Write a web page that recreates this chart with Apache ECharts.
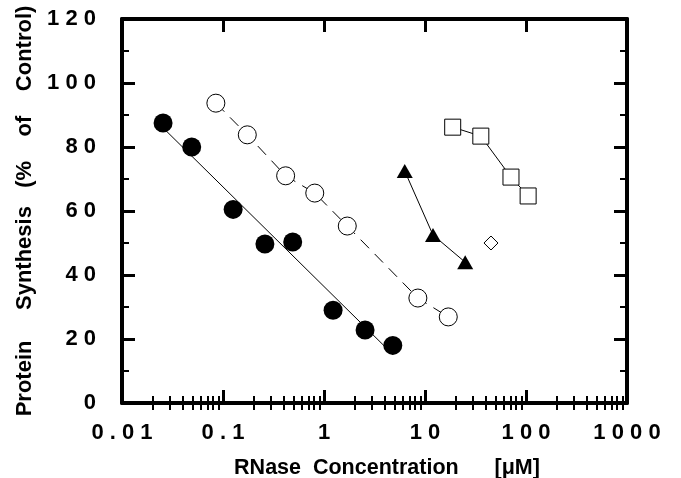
<!DOCTYPE html>
<html>
<head>
<meta charset="utf-8">
<script src="https://cdn.jsdelivr.net/npm/echarts@6/dist/echarts.min.js"></script>
<style>
  html, body { margin: 0; padding: 0; background: #fff; }
  #chart { width: 681px; height: 478px; }
</style>
</head>
<body>
<div id="chart"></div>
<script>
// data: [RNase concentration (uM), protein synthesis (% of control)]
const filledCircles = [[0.0255, 87.5], [0.049, 80], [0.126, 60.5], [0.26, 49.7], [0.49, 50.3], [1.23, 29], [2.55, 22.8], [4.8, 18]]
const fitLine = [[0.0255, 86], [4.8, 15.2]]
const openCircles = [[0.085, 93.7], [0.174, 83.8], [0.417, 71], [0.81, 65.6], [1.7, 55.3], [8.5, 32.8], [17, 26.9]]
const filledTriangles = [[6.3, 72.5], [12, 52.5], [25, 44]]
const openDiamond = [[45, 50]]
const openSquares = [[18.8, 86.2], [35.7, 83.4], [71, 70.6], [105, 64.7]]

const xTickLabels = ['0.01', '0.1', '1', '10', '100', '1000']
const yTickLabels = ['0', '20', '40', '60', '80', '100', '120']

// minor log ticks 2..9 in each decade
const minorX = []
for (let k = -2; k <= 2; k++) {
  for (let m = 2; m <= 9; m++) {
    minorX.push(+(m * Math.pow(10, k)).toPrecision(3))
  }
}

const spaced = (s) => s.split('').join(' ')
const font = 'Liberation Sans, Arial, Helvetica, sans-serif'

const logAxis = (pos, extra) => Object.assign({
  type: 'log',
  logBase: 10,
  min: 0.01,
  max: 1000,
  position: pos,
  axisLine: { show: true, onZero: false, lineStyle: { color: '#000', width: 4 } },
  axisTick: { show: true, inside: true, length: 13, lineStyle: { color: '#000', width: 3 } },
  axisLabel: { show: false },
  splitLine: { show: false },
  minorTick: { show: false },
  minorSplitLine: { show: false }
}, extra)

const minorLogAxis = (pos) => logAxis(pos, {
  axisLine: { show: false },
  axisTick: { show: true, inside: true, length: 7, customValues: minorX, lineStyle: { color: '#000', width: 2 } }
})

const valAxis = (pos, extra) => Object.assign({
  type: 'value',
  min: 0,
  max: 120,
  interval: 20,
  position: pos,
  axisLine: { show: true, onZero: false, lineStyle: { color: '#000', width: 4 } },
  axisTick: { show: true, inside: true, length: 13, lineStyle: { color: '#000', width: 3 } },
  minorTick: { show: true, splitNumber: 2, length: 7, lineStyle: { color: '#000', width: 2 } },
  axisLabel: { show: false },
  splitLine: { show: false }
}, extra)

const option = {
  animation: false,
  backgroundColor: '#fff',
  grid: { left: 122, right: 54, top: 19, bottom: 75, outerBoundsMode: 'none', containLabel: false },
  xAxis: [
    logAxis('bottom', {
      name: 'RNase  Concentration      [μM]',
      nameLocation: 'middle',
      nameGap: 54,
      nameTextStyle: { color: '#000', fontFamily: font, fontWeight: 'bold', fontSize: 21.5, padding: [0, 0, 0, 25] },
      axisLabel: {
        show: true,
        margin: 19,
        color: '#000',
        fontFamily: font,
        fontWeight: 'bold',
        fontSize: 22,
        formatter: (v) => spaced(xTickLabels[Math.round(Math.log10(v)) + 2] || '')
      }
    }),
    minorLogAxis('bottom'),
    logAxis('top'),
    minorLogAxis('top')
  ],
  yAxis: [
    valAxis('left', {
      name: 'Protein     Synthesis   (%    of    Control)',
      nameLocation: 'middle',
      nameGap: 85,
      nameTextStyle: { color: '#000', fontFamily: font, fontWeight: 'bold', fontSize: 22 },
      axisLabel: {
        show: true,
        margin: 26,
        color: '#000',
        fontFamily: font,
        fontWeight: 'bold',
        fontSize: 22,
        formatter: (v) => spaced(yTickLabels[Math.round(v / 20)] || '')
      }
    }),
    valAxis('right')
  ],
  series: [
    {
      name: 'fit',
      type: 'line',
      data: fitLine,
      showSymbol: false,
      symbol: 'none',
      lineStyle: { color: '#000', width: 1 },
      z: 2
    },
    {
      name: 'filled circles',
      type: 'scatter',
      data: filledCircles,
      symbol: 'circle',
      symbolSize: 19,
      itemStyle: { color: '#000', opacity: 1 },
      z: 3
    },
    {
      name: 'open circles',
      type: 'line',
      data: openCircles,
      symbol: 'circle',
      symbolSize: 18,
      lineStyle: { color: '#000', width: 1, type: [12, 8] },
      itemStyle: { color: '#fff', borderColor: '#000', borderWidth: 1 },
      z: 3
    },
    {
      name: 'filled triangles',
      type: 'line',
      data: filledTriangles,
      symbol: 'triangle',
      symbolSize: [16, 14],
      lineStyle: { color: '#000', width: 1 },
      itemStyle: { color: '#000' },
      z: 3
    },
    {
      name: 'open diamond',
      type: 'scatter',
      data: openDiamond,
      symbol: 'diamond',
      symbolSize: 14,
      itemStyle: { color: '#fff', borderColor: '#000', borderWidth: 1, opacity: 1 },
      z: 3
    },
    {
      name: 'open squares',
      type: 'line',
      data: openSquares,
      symbol: 'rect',
      symbolSize: 16,
      lineStyle: { color: '#000', width: 1 },
      itemStyle: { color: '#fff', borderColor: '#000', borderWidth: 1 },
      z: 3
    }
  ]
}

const myChart = echarts.init(document.getElementById('chart'))
myChart.setOption(option)
window.onresize = myChart.resize
</script>
</body>
</html>
